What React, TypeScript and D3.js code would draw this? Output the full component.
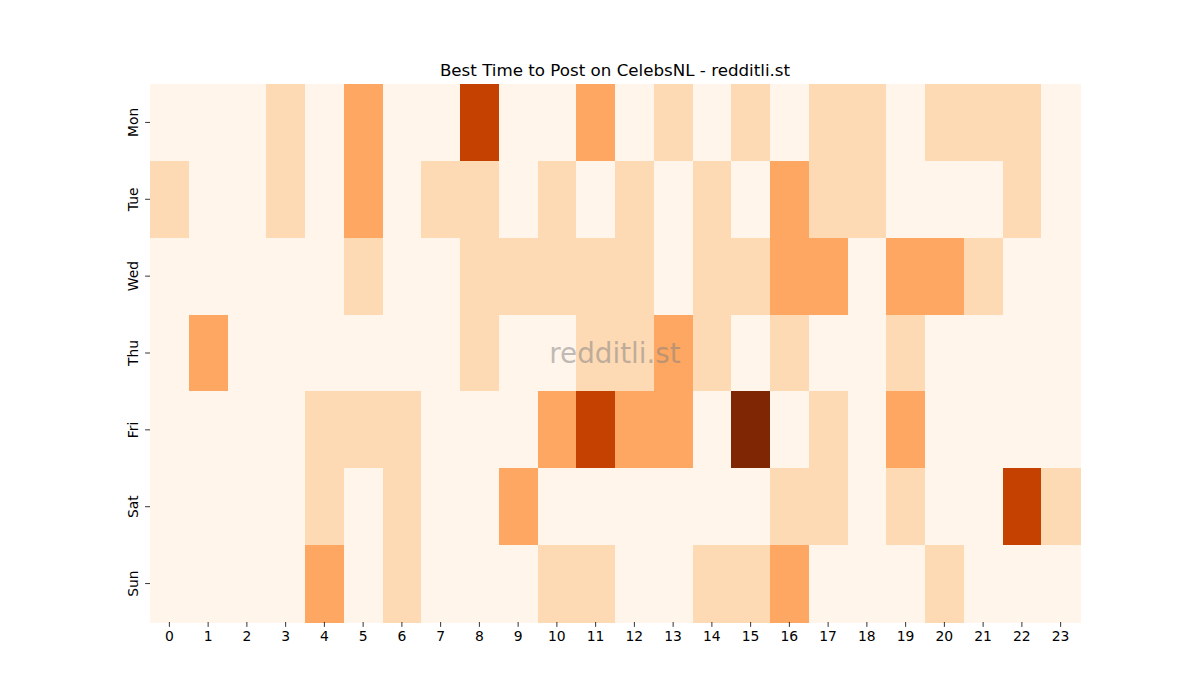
import React from "react";
import * as d3 from "d3";

const days = ["Mon", "Tue", "Wed", "Thu", "Fri", "Sat", "Sun"];
const hours = d3.range(24).map(String);

const mon = [0, 0, 0, 1, 0, 2, 0, 0, 4, 0, 0, 2, 0, 1, 0, 1, 0, 1, 1, 0, 1, 1, 1, 0];
const tue = [1, 0, 0, 1, 0, 2, 0, 1, 1, 0, 1, 0, 1, 0, 1, 0, 2, 1, 1, 0, 0, 0, 1, 0];
const wed = [0, 0, 0, 0, 0, 1, 0, 0, 1, 1, 1, 1, 1, 0, 1, 1, 2, 2, 0, 2, 2, 1, 0, 0];
const thu = [0, 2, 0, 0, 0, 0, 0, 0, 1, 0, 0, 1, 1, 2, 1, 0, 1, 0, 0, 1, 0, 0, 0, 0];
const fri = [0, 0, 0, 0, 1, 1, 1, 0, 0, 0, 2, 4, 2, 2, 0, 5, 0, 1, 0, 2, 0, 0, 0, 0];
const sat = [0, 0, 0, 0, 1, 0, 1, 0, 0, 2, 0, 0, 0, 0, 0, 0, 1, 1, 0, 1, 0, 0, 4, 1];
const sun = [0, 0, 0, 0, 2, 0, 1, 0, 0, 0, 1, 1, 0, 0, 1, 1, 2, 0, 0, 0, 1, 0, 0, 0];
const values = [mon, tue, wed, thu, fri, sat, sun];

const orangesStops = ["#fff5eb", "#fee6ce", "#fdd0a2", "#fdae6b", "#fd8d3c", "#f16913", "#d94801", "#a63603", "#7f2704"];

const W = 1200;
const H = 700;
const left = 150;
const right = 1080;
const top = 84;
const bottom = 622;
const FONT = "DejaVu Sans, sans-serif";

export default function App() {
  const x = d3.scaleBand<string>().domain(hours).range([left, right]);
  const y = d3.scaleBand<string>().domain(days).range([top, bottom]);
  const vmax = d3.max(values.flat()) as number;
  const norm = d3.scaleLinear().domain([0, vmax]).range([0, 1]);
  const cmap = d3
    .scaleLinear<string>()
    .domain(orangesStops.map((_, i) => i / (orangesStops.length - 1)))
    .range(orangesStops)
    .interpolate(d3.interpolateRgb);

  return (
    <svg width={W} height={H} style={{ position: "absolute", left: 0, top: 0, background: "#fff" }} fontFamily={FONT}>
      <rect x={0} y={0} width={W} height={H} fill="#fff" />
      {values.map((row, ri) =>
        row.map((v, ci) => (
          <rect
            key={`${ri}-${ci}`}
            x={x(hours[ci])}
            y={y(days[ri])}
            width={x.bandwidth() + 0.5}
            height={y.bandwidth() + 0.5}
            fill={cmap(norm(v))}
            shapeRendering="crispEdges"
          />
        ))
      )}
      {hours.map((h) => {
        const cx = (x(h) as number) + x.bandwidth() / 2;
        return (
          <g key={h}>
            <line x1={cx} x2={cx} y1={bottom} y2={bottom + 4.9} stroke="#000" strokeWidth={0.8} />
            <text x={cx} y={bottom + 19} textAnchor="middle" fontSize={13.9} fill="#000">
              {h}
            </text>
          </g>
        );
      })}
      {days.map((d) => {
        const cy = (y(d) as number) + y.bandwidth() / 2;
        return (
          <g key={d}>
            <line x1={left - 4.9} x2={left} y1={cy} y2={cy} stroke="#000" strokeWidth={0.8} />
            <text
              transform={`translate(${left - 12.5},${cy}) rotate(-90)`}
              textAnchor="middle"
              fontSize={13.9}
              fill="#000"
            >
              {d}
            </text>
          </g>
        );
      })}
      <text x={(left + right) / 2} y={76} textAnchor="middle" fontSize={16.7} fill="#000">
        Best Time to Post on CelebsNL - redditli.st
      </text>
      <text x={(left + right) / 2} y={363} textAnchor="middle" fontSize={27.8} fill="#808080" fillOpacity={0.5}>
        redditli.st
      </text>
    </svg>
  );
}
